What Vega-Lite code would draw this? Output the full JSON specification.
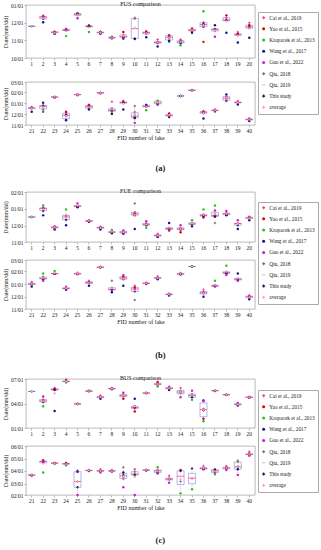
{
"$schema": "https://vega.github.io/schema/vega-lite/v6.json",
"background": "white",
"padding": {"left": 2, "top": 0, "right": 0, "bottom": 0},
"datasets": {
"FUS": [
{"l":1,"This":-37,"avg":-37},
{"l":2,"Cai":-18,"Yao":-20,"Guo":-21,"Wang":-30,"This":-24,"avg":-23},
{"l":3,"Cai":-46,"Yao":-47,"Guo":-47,"Wang":-50,"This":-48,"avg":-48},
{"l":4,"Cai":-41,"Guo":-42,"Wang":-44,"Kro":-54,"This":-44,"avg":-45},
{"l":5,"Kro":-14,"Wang":-15,"Cai":-18,"Guo":-23,"This":-16,"avg":-17},
{"l":6,"Cai":-35,"Yao":-37,"Wang":-36,"Guo":-38,"Kro":-47,"This":-37,"avg":-39},
{"l":7,"Cai":-46,"Guo":-47,"Kro":-48,"Wang":-50,"This":-48,"avg":-48},
{"l":8,"Kro":-55,"Cai":-56,"Wang":-57,"Guo":-58,"This":-57,"avg":-57},
{"l":9,"Yao":-47,"Cai":-52,"Guo":-56,"Wang":-58,"This":-55,"avg":-54},
{"l":10,"Cai":-22,"Q18":-24,"Wang":-59,"This":-58,"avg":-40},
{"l":11,"Cai":-45,"Yao":-47,"Guo":-50,"Wang":-56,"This":-48,"avg":-49},
{"l":12,"Cai":-60,"Guo":-64,"Yao":-66,"Wang":-72,"This":-65,"avg":-65},
{"l":13,"Cai":-52,"Yao":-53,"Guo":-55,"Wang":-62,"Kro":-64,"This":-57,"avg":-57},
{"l":14,"Cai":-60,"Guo":-62,"Wang":-66,"Kro":-70,"This":-64,"avg":-64},
{"l":15,"Cai":-40,"Yao":-42,"Guo":-44,"Wang":-48,"This":-45,"avg":-44},
{"l":16,"Kro":-11,"Cai":-30,"Wang":-33,"Guo":-38,"Yao":-64,"This":-35,"avg":-35},
{"l":17,"Wang":-35,"Kro":-42,"Cai":-45,"Guo":-55,"This":-42,"avg":-44},
{"l":18,"Yao":-18,"Cai":-22,"Guo":-26,"Wang":-48,"This":-27,"avg":-28},
{"l":19,"Cai":-47,"Yao":-50,"Guo":-52,"Wang":-65,"This":-52,"avg":-53},
{"l":20,"Cai":-31,"Yao":-35,"Guo":-40,"Wang":-57,"This":-38,"avg":-40},
{"l":21,"Cai":-11,"Yao":-13,"Guo":-14,"Wang":-24,"This":-15,"avg":-15},
{"l":22,"Wang":1,"Cai":-6,"Q18":-10,"Kro":-18,"Guo":-24,"This":-8,"avg":-11},
{"l":23,"Cai":17,"Wang":16,"Guo":17,"This":17,"avg":17},
{"l":24,"Yao":-24,"Cai":-27,"Guo":-36,"Kro":-46,"Wang":-48,"This":-32,"avg":-36},
{"l":25,"Cai":25,"Guo":22,"Wang":24,"This":24,"avg":24},
{"l":26,"Cai":-4,"Yao":-6,"Guo":-11,"Kro":-15,"Wang":-18,"This":-9,"avg":-11},
{"l":27,"Cai":30,"Guo":27,"This":29,"avg":29},
{"l":28,"Cai":4,"Guo":-15,"Yao":-19,"Kro":-24,"Wang":-30,"This":-20,"avg":-17},
{"l":29,"Cai":7,"Yao":3,"Guo":0,"Wang":-18,"This":2,"avg":-1},
{"l":30,"Q18":-8,"Cai":-25,"Kro":-33,"Wang":-40,"Guo":-55,"This":-42,"avg":-34},
{"l":31,"Cai":-4,"Wang":-6,"Guo":-10,"Kro":-20,"This":-9,"avg":-10},
{"l":32,"Cai":7,"Kro":6,"Guo":-2,"Wang":-4,"This":1,"avg":2},
{"l":33,"Yao":-29,"Cai":-32,"Guo":-35,"Wang":-39,"This":-35,"avg":-34},
{"l":34,"Cai":20,"Wang":20,"This":20,"avg":20},
{"l":35,"Cai":37,"Wang":36,"This":35,"avg":36},
{"l":36,"Cai":-22,"Yao":-24,"Guo":-25,"Wang":-43,"This":-28,"avg":-28},
{"l":37,"Cai":-17,"Guo":-20,"Wang":-21,"Kro":-24,"This":-20,"avg":-20},
{"l":38,"Wang":24,"Cai":18,"Kro":8,"Guo":6,"This":14,"avg":14},
{"l":39,"Cai":6,"Guo":2,"Wang":-4,"This":2,"avg":2},
{"l":40,"Cai":-42,"Guo":-45,"Wang":-50,"This":-46,"avg":-46}
],
"FUE": [
{"l":1,"Cai":-15,"This":-15,"avg":-15},
{"l":2,"Kro":6,"Cai":1,"Guo":2,"Yao":0,"Wang":-12,"This":-4,"avg":-1},
{"l":3,"Cai":-32,"Yao":-33,"Guo":-34,"Wang":-38,"This":-35,"avg":-34},
{"l":4,"Kro":-1,"Cai":-12,"Guo":-15,"Wang":-30,"This":-20,"avg":-16},
{"l":5,"Guo":10,"Cai":6,"Kro":4,"Wang":3,"This":5,"avg":6},
{"l":6,"Cai":-21,"Guo":-22,"Wang":-23,"Yao":-24,"This":-22,"avg":-22},
{"l":7,"Cai":-33,"Guo":-34,"Wang":-38,"This":-35,"avg":-35},
{"l":8,"Kro":-39,"Guo":-42,"Cai":-43,"Wang":-45,"This":-43,"avg":-42},
{"l":9,"Guo":-40,"Cai":-42,"Wang":-46,"This":-44,"avg":-43},
{"l":10,"Q18":10,"Cai":-6,"Guo":-9,"Yao":-12,"Wang":-37,"This":-10,"avg":-11},
{"l":11,"Guo":-23,"Cai":-27,"Wang":-30,"Kro":-35,"This":-29,"avg":-29},
{"l":12,"Cai":-46,"Guo":-48,"Yao":-50,"Wang":-52,"This":-49,"avg":-49},
{"l":13,"Wang":-26,"Cai":-35,"Guo":-38,"Yao":-40,"This":-36,"avg":-35},
{"l":14,"Guo":-30,"Cai":-35,"Wang":-38,"Yao":-43,"This":-37,"avg":-37},
{"l":15,"Kro":-21,"Cai":-26,"Guo":-28,"Wang":-32,"This":-28,"avg":-27},
{"l":16,"Kro":-1,"Cai":-10,"Wang":-12,"Guo":-13,"Yao":-16,"This":-13,"avg":-11},
{"l":17,"Kro":6,"Guo":-3,"Cai":-10,"Yao":-14,"Wang":-14,"Q18":-26,"This":-12,"avg":-10},
{"l":18,"Guo":-4,"Cai":-8,"Yao":-11,"Wang":-12,"This":-9,"avg":-9},
{"l":19,"Guo":-21,"Cai":-27,"Q18":-27,"Wang":-37,"This":-30,"avg":-28},
{"l":20,"Cai":-14,"Guo":-17,"Wang":-21,"This":-16,"avg":-17},
{"l":21,"Cai":5,"Guo":2,"Yao":0,"Wang":-6,"This":-1,"avg":0},
{"l":22,"Kro":26,"Q18":18,"Cai":14,"Wang":12,"Guo":8,"This":14,"avg":15},
{"l":23,"Kro":32,"Cai":26,"Guo":25,"Wang":25,"This":26,"avg":27},
{"l":24,"Cai":-6,"Guo":-10,"Wang":-14,"This":-11,"avg":-10},
{"l":25,"Cai":28,"Guo":24,"Wang":25,"This":26,"avg":26},
{"l":26,"Cai":8,"Guo":5,"Wang":-4,"This":3,"avg":3},
{"l":27,"Cai":43,"Guo":40,"This":41,"avg":41},
{"l":28,"Q18":8,"Cai":-9,"Guo":-13,"Wang":-20,"This":-14,"avg":-10},
{"l":29,"Guo":22,"Yao":18,"Cai":15,"Wang":-4,"This":12,"avg":13},
{"l":30,"Cai":-4,"Yao":-8,"Guo":-12,"Q18":-39,"This":-18,"avg":-16},
{"l":31,"Cai":4,"Guo":2,"Wang":0,"This":2,"avg":2},
{"l":32,"Cai":19,"Guo":15,"Wang":12,"This":15,"avg":15},
{"l":33,"Cai":-23,"Guo":-25,"Wang":-28,"This":-25,"avg":-25},
{"l":34,"Q18":27,"Cai":26,"Wang":24,"This":24,"avg":25},
{"l":35,"Wang":43,"This":43,"avg":43},
{"l":36,"Cai":-14,"Guo":-20,"Wang":-31,"This":-22,"avg":-22},
{"l":37,"Kro":8,"Cai":-4,"Wang":-5,"Guo":-6,"This":-3,"avg":-2},
{"l":38,"Kro":45,"Cai":30,"Wang":26,"Guo":22,"This":28,"avg":30},
{"l":39,"Wang":26,"Cai":14,"Kro":10,"Guo":8,"This":12,"avg":14},
{"l":40,"Cai":-27,"Guo":-30,"Wang":-37,"This":-32,"avg":-32}
],
"BUS": [
{"l":1,"Cai":135,"This":135,"avg":135},
{"l":2,"Guo":116,"Cai":105,"Wang":96,"Kro":80,"This":100,"avg":99},
{"l":3,"Cai":148,"Guo":145,"Yao":140,"Wang":63,"This":142,"avg":128},
{"l":4,"Guo":178,"Cai":172,"Kro":168,"This":172,"avg":172},
{"l":5,"Cai":89,"Guo":90,"This":89,"avg":89},
{"l":6,"Wang":138,"Cai":136,"This":136,"avg":137},
{"l":7,"Cai":120,"Guo":115,"Wang":108,"This":113,"avg":114},
{"l":8,"Cai":148,"Guo":146,"Wang":143,"This":145,"avg":145},
{"l":9,"Guo":130,"Cai":122,"Yao":108,"This":118,"avg":120},
{"l":10,"Wang":108,"Guo":80,"Cai":72,"Yao":61,"This":76,"avg":79},
{"l":11,"Cai":130,"Guo":128,"This":129,"avg":129},
{"l":12,"Yao":170,"Cai":165,"Guo":160,"Kro":153,"This":162,"avg":162},
{"l":13,"Cai":153,"Guo":150,"Yao":145,"Wang":140,"This":146,"avg":147},
{"l":14,"Cai":148,"Kro":136,"Guo":114,"This":130,"avg":132},
{"l":15,"Guo":138,"Cai":125,"Wang":114,"Kro":104,"This":120,"avg":120},
{"l":16,"Wang":102,"Guo":100,"Cai":71,"Yao":34,"Kro":25,"This":65,"avg":66},
{"l":17,"Cai":139,"Wang":137,"This":138,"avg":138},
{"l":18,"Cai":124,"Wang":122,"This":123,"avg":123},
{"l":19,"Guo":92,"Cai":88,"Wang":83,"This":87,"avg":87},
{"l":20,"Cai":116,"Guo":112,"Wang":113,"This":114,"avg":114},
{"l":21,"Cai":80,"Wang":79,"This":80,"avg":80},
{"l":22,"Yao":116,"Guo":114,"Cai":113,"Kro":86,"This":110,"avg":108},
{"l":23,"Cai":110,"Guo":108,"Wang":109,"This":109,"avg":109},
{"l":24,"Cai":110,"Wang":108,"Guo":106,"Kro":104,"This":108,"avg":107},
{"l":25,"Cai":91,"Wang":88,"Q18":64,"Guo":31,"This":50,"avg":65},
{"l":26,"Cai":92,"Wang":90,"This":91,"avg":91},
{"l":27,"Cai":94,"Wang":90,"Guo":86,"This":90,"avg":90},
{"l":28,"Cai":92,"Wang":90,"Guo":88,"This":90,"avg":90},
{"l":29,"Q18":99,"Wang":86,"Kro":76,"Cai":70,"Guo":50,"This":80,"avg":77},
{"l":30,"Q18":94,"Cai":88,"Kro":82,"Guo":31,"This":80,"avg":75},
{"l":31,"Cai":93,"Wang":91,"This":92,"avg":92},
{"l":32,"Kro":99,"Cai":92,"Guo":86,"Wang":84,"This":90,"avg":90},
{"l":33,"Cai":78,"Wang":70,"Guo":61,"This":70,"avg":70},
{"l":34,"Yao":92,"Q18":64,"Kro":35,"This":90,"avg":70},
{"l":35,"This":96,"Cai":72,"Kro":45,"avg":71},
{"l":36,"Cai":102,"Guo":95,"Wang":94,"This":97,"avg":97},
{"l":37,"Cai":94,"Wang":93,"Guo":86,"Kro":82,"This":90,"avg":89},
{"l":38,"Cai":102,"Wang":98,"Guo":92,"This":96,"avg":97},
{"l":39,"Kro":115,"Cai":112,"Wang":94,"Guo":80,"This":100,"avg":100},
{"l":40,"Cai":137,"Yao":132,"Wang":130,"Guo":127,"This":130,"avg":131}
]
},
"vconcat": [
{
"spacing": 24, "bounds": "flush",
"title": {"text": "(a)", "orient": "bottom", "anchor": "middle", "offset": 23, "fontSize": 8.5, "fontWeight": "bold"},
"vconcat": [
{
"width": 229, "height": 53,
"title": {"text": "FUS comparison", "anchor": "middle", "offset": -4},
"data": {"name": "FUS"},
"transform": [{"fold": ["Cai","Yao","Kro","Wang","Guo","Q18","Q19","This","avg"], "as": ["src","v"]}, {"filter": "isValid(datum.v) && datum.l <= 20"}],
"encoding": {
 "x": {"field": "l", "type": "ordinal", "scale": {"type": "band", "paddingInner": 0, "paddingOuter": 0}, "axis": {"title": null}},
 "y": {"field": "v", "type": "quantitative", "scale": {"domain": [-92, 0], "nice": false, "zero": false}, "axis": {"title": "Date(mm/dd)", "values": [-92,-61,-31,0], "labelOverlap": false, "labelExpr": "datum.value==-92?'10/01':datum.value==-61?'11/01':datum.value==-31?'12/01':datum.value==0?'01/01':datum.value==31?'02/01':datum.value==59?'03/01':datum.value==90?'04/01':datum.value==120?'05/01':datum.value==151?'06/01':'07/01'"}}
},
"layer": [
{"transform": [{"filter": "datum.src != 'avg'"}],
 "mark": {"type": "boxplot", "extent": 1.5, "size": 7, "outliers": false, "ticks": false, "box": {"fill": "transparent", "stroke": "#8484ee", "strokeWidth": 0.6}, "median": {"color": "#ff3030", "strokeWidth": 0.7}, "rule": {"color": "#777", "strokeWidth": 0.4, "strokeDash": [1,1]}}},
{"mark": {"type": "point", "filled": true, "opacity": 1, "size": 6},
 "encoding": {
  "color": {"field": "src", "type": "nominal", "scale": {"domain": ["Cai","Yao","Kro","Wang","Guo","Q18","Q19","This","avg"], "range": ["#f5457a","#e00000","#22c422","#14148a","#c81ec8","#777777","#aaaaaa","#1a1a5e","#ff9fc0"]}, "legend": {"orient": "none", "legendX": 232, "legendY": 7, "title": null, "labelExpr": "datum.label=='Cai'?'Cai et al., 2019':datum.label=='Yao'?'Yao et al., 2015':datum.label=='Kro'?'Kropacek et al., 2013':datum.label=='Wang'?'Wang et al., 2017':datum.label=='Guo'?'Guo et al., 2022':datum.label=='Q18'?'Qiu, 2018':datum.label=='Q19'?'Qiu, 2019':datum.label=='This'?'This study':'average'"}},
  "shape": {"field": "src", "type": "nominal", "scale": {"domain": ["Cai","Yao","Kro","Wang","Guo","Q18","Q19","This","avg"], "range": ["cross","circle","circle","circle","circle","cross","M-1,-0.25H1V0.25H-1Z","cross","cross"]}, "legend": {"orient": "none", "legendX": 232, "legendY": 7, "title": null, "labelExpr": "datum.label=='Cai'?'Cai et al., 2019':datum.label=='Yao'?'Yao et al., 2015':datum.label=='Kro'?'Kropacek et al., 2013':datum.label=='Wang'?'Wang et al., 2017':datum.label=='Guo'?'Guo et al., 2022':datum.label=='Q18'?'Qiu, 2018':datum.label=='Q19'?'Qiu, 2019':datum.label=='This'?'This study':'average'"}}}}
]
},
{
"width": 229, "height": 43,
"data": {"name": "FUS"},
"transform": [{"fold": ["Cai","Yao","Kro","Wang","Guo","Q18","Q19","This","avg"], "as": ["src","v"]}, {"filter": "isValid(datum.v) && datum.l > 20"}],
"encoding": {
 "x": {"field": "l", "type": "ordinal", "scale": {"type": "band", "paddingInner": 0, "paddingOuter": 0}, "axis": {"title": "FID number of lake"}},
 "y": {"field": "v", "type": "quantitative", "scale": {"domain": [-61, 59], "nice": false, "zero": false}, "axis": {"title": "Date(mm/dd)", "values": [-61,-31,0,31,59], "labelOverlap": false, "labelExpr": "datum.value==-92?'10/01':datum.value==-61?'11/01':datum.value==-31?'12/01':datum.value==0?'01/01':datum.value==31?'02/01':datum.value==59?'03/01':datum.value==90?'04/01':datum.value==120?'05/01':datum.value==151?'06/01':'07/01'"}}
},
"layer": [
{"transform": [{"filter": "datum.src != 'avg'"}],
 "mark": {"type": "boxplot", "extent": 1.5, "size": 7, "outliers": false, "ticks": false, "box": {"fill": "transparent", "stroke": "#8484ee", "strokeWidth": 0.6}, "median": {"color": "#ff3030", "strokeWidth": 0.7}, "rule": {"color": "#777", "strokeWidth": 0.4, "strokeDash": [1,1]}}},
{"mark": {"type": "point", "filled": true, "opacity": 1, "size": 6},
 "encoding": {
  "color": {"field": "src", "type": "nominal", "scale": {"domain": ["Cai","Yao","Kro","Wang","Guo","Q18","Q19","This","avg"], "range": ["#f5457a","#e00000","#22c422","#14148a","#c81ec8","#777777","#aaaaaa","#1a1a5e","#ff9fc0"]}, "legend": {"orient": "none", "legendX": 232, "legendY": 7, "title": null, "labelExpr": "datum.label=='Cai'?'Cai et al., 2019':datum.label=='Yao'?'Yao et al., 2015':datum.label=='Kro'?'Kropacek et al., 2013':datum.label=='Wang'?'Wang et al., 2017':datum.label=='Guo'?'Guo et al., 2022':datum.label=='Q18'?'Qiu, 2018':datum.label=='Q19'?'Qiu, 2019':datum.label=='This'?'This study':'average'"}},
  "shape": {"field": "src", "type": "nominal", "scale": {"domain": ["Cai","Yao","Kro","Wang","Guo","Q18","Q19","This","avg"], "range": ["cross","circle","circle","circle","circle","cross","M-1,-0.25H1V0.25H-1Z","cross","cross"]}, "legend": {"orient": "none", "legendX": 232, "legendY": 7, "title": null, "labelExpr": "datum.label=='Cai'?'Cai et al., 2019':datum.label=='Yao'?'Yao et al., 2015':datum.label=='Kro'?'Kropacek et al., 2013':datum.label=='Wang'?'Wang et al., 2017':datum.label=='Guo'?'Guo et al., 2022':datum.label=='Q18'?'Qiu, 2018':datum.label=='Q19'?'Qiu, 2019':datum.label=='This'?'This study':'average'"}}}}
]
}
]
},
{
"spacing": 18, "bounds": "flush",
"title": {"text": "(b)", "orient": "bottom", "anchor": "middle", "offset": 26, "fontSize": 8.5, "fontWeight": "bold"},
"vconcat": [
{
"width": 229, "height": 50,
"title": {"text": "FUE comparison", "anchor": "middle", "offset": -4},
"data": {"name": "FUE"},
"transform": [{"fold": ["Cai","Yao","Kro","Wang","Guo","Q18","Q19","This","avg"], "as": ["src","v"]}, {"filter": "isValid(datum.v) && datum.l <= 20"}],
"encoding": {
 "x": {"field": "l", "type": "ordinal", "scale": {"type": "band", "paddingInner": 0, "paddingOuter": 0}, "axis": {"title": null}},
 "y": {"field": "v", "type": "quantitative", "scale": {"domain": [-61, 31], "nice": false, "zero": false}, "axis": {"title": "Date(mm/dd)", "values": [-61,-31,0,31], "labelOverlap": false, "labelExpr": "datum.value==-92?'10/01':datum.value==-61?'11/01':datum.value==-31?'12/01':datum.value==0?'01/01':datum.value==31?'02/01':datum.value==59?'03/01':datum.value==90?'04/01':datum.value==120?'05/01':datum.value==151?'06/01':'07/01'"}}
},
"layer": [
{"transform": [{"filter": "datum.src != 'avg'"}],
 "mark": {"type": "boxplot", "extent": 1.5, "size": 7, "outliers": false, "ticks": false, "box": {"fill": "transparent", "stroke": "#8484ee", "strokeWidth": 0.6}, "median": {"color": "#ff3030", "strokeWidth": 0.7}, "rule": {"color": "#777", "strokeWidth": 0.4, "strokeDash": [1,1]}}},
{"mark": {"type": "point", "filled": true, "opacity": 1, "size": 6},
 "encoding": {
  "color": {"field": "src", "type": "nominal", "scale": {"domain": ["Cai","Yao","Kro","Wang","Guo","Q18","Q19","This","avg"], "range": ["#f5457a","#e00000","#22c422","#14148a","#c81ec8","#777777","#aaaaaa","#1a1a5e","#ff9fc0"]}, "legend": {"orient": "none", "legendX": 232, "legendY": 10, "title": null, "labelExpr": "datum.label=='Cai'?'Cai et al., 2019':datum.label=='Yao'?'Yao et al., 2015':datum.label=='Kro'?'Kropacek et al., 2013':datum.label=='Wang'?'Wang et al., 2017':datum.label=='Guo'?'Guo et al., 2022':datum.label=='Q18'?'Qiu, 2018':datum.label=='Q19'?'Qiu, 2019':datum.label=='This'?'This study':'average'"}},
  "shape": {"field": "src", "type": "nominal", "scale": {"domain": ["Cai","Yao","Kro","Wang","Guo","Q18","Q19","This","avg"], "range": ["cross","circle","circle","circle","circle","cross","M-1,-0.25H1V0.25H-1Z","cross","cross"]}, "legend": {"orient": "none", "legendX": 232, "legendY": 10, "title": null, "labelExpr": "datum.label=='Cai'?'Cai et al., 2019':datum.label=='Yao'?'Yao et al., 2015':datum.label=='Kro'?'Kropacek et al., 2013':datum.label=='Wang'?'Wang et al., 2017':datum.label=='Guo'?'Guo et al., 2022':datum.label=='Q18'?'Qiu, 2018':datum.label=='Q19'?'Qiu, 2019':datum.label=='This'?'This study':'average'"}}}}
]
},
{
"width": 229, "height": 49,
"data": {"name": "FUE"},
"transform": [{"fold": ["Cai","Yao","Kro","Wang","Guo","Q18","Q19","This","avg"], "as": ["src","v"]}, {"filter": "isValid(datum.v) && datum.l > 20"}],
"encoding": {
 "x": {"field": "l", "type": "ordinal", "scale": {"type": "band", "paddingInner": 0, "paddingOuter": 0}, "axis": {"title": "FID number of lake"}},
 "y": {"field": "v", "type": "quantitative", "scale": {"domain": [-61, 59], "nice": false, "zero": false}, "axis": {"title": "Date(mm/dd)", "values": [-61,-31,0,31,59], "labelOverlap": false, "labelExpr": "datum.value==-92?'10/01':datum.value==-61?'11/01':datum.value==-31?'12/01':datum.value==0?'01/01':datum.value==31?'02/01':datum.value==59?'03/01':datum.value==90?'04/01':datum.value==120?'05/01':datum.value==151?'06/01':'07/01'"}}
},
"layer": [
{"transform": [{"filter": "datum.src != 'avg'"}],
 "mark": {"type": "boxplot", "extent": 1.5, "size": 7, "outliers": false, "ticks": false, "box": {"fill": "transparent", "stroke": "#8484ee", "strokeWidth": 0.6}, "median": {"color": "#ff3030", "strokeWidth": 0.7}, "rule": {"color": "#777", "strokeWidth": 0.4, "strokeDash": [1,1]}}},
{"mark": {"type": "point", "filled": true, "opacity": 1, "size": 6},
 "encoding": {
  "color": {"field": "src", "type": "nominal", "scale": {"domain": ["Cai","Yao","Kro","Wang","Guo","Q18","Q19","This","avg"], "range": ["#f5457a","#e00000","#22c422","#14148a","#c81ec8","#777777","#aaaaaa","#1a1a5e","#ff9fc0"]}, "legend": {"orient": "none", "legendX": 232, "legendY": 10, "title": null, "labelExpr": "datum.label=='Cai'?'Cai et al., 2019':datum.label=='Yao'?'Yao et al., 2015':datum.label=='Kro'?'Kropacek et al., 2013':datum.label=='Wang'?'Wang et al., 2017':datum.label=='Guo'?'Guo et al., 2022':datum.label=='Q18'?'Qiu, 2018':datum.label=='Q19'?'Qiu, 2019':datum.label=='This'?'This study':'average'"}},
  "shape": {"field": "src", "type": "nominal", "scale": {"domain": ["Cai","Yao","Kro","Wang","Guo","Q18","Q19","This","avg"], "range": ["cross","circle","circle","circle","circle","cross","M-1,-0.25H1V0.25H-1Z","cross","cross"]}, "legend": {"orient": "none", "legendX": 232, "legendY": 10, "title": null, "labelExpr": "datum.label=='Cai'?'Cai et al., 2019':datum.label=='Yao'?'Yao et al., 2015':datum.label=='Kro'?'Kropacek et al., 2013':datum.label=='Wang'?'Wang et al., 2017':datum.label=='Guo'?'Guo et al., 2022':datum.label=='Q18'?'Qiu, 2018':datum.label=='Q19'?'Qiu, 2019':datum.label=='This'?'This study':'average'"}}}}
]
}
]
},
{
"spacing": 18, "bounds": "flush",
"title": {"text": "(c)", "orient": "bottom", "anchor": "middle", "offset": 25, "fontSize": 8.5, "fontWeight": "bold"},
"vconcat": [
{
"width": 229, "height": 49,
"title": {"text": "BUS comparison", "anchor": "middle", "offset": -4},
"data": {"name": "BUS"},
"transform": [{"fold": ["Cai","Yao","Kro","Wang","Guo","Q18","Q19","This","avg"], "as": ["src","v"]}, {"filter": "isValid(datum.v) && datum.l <= 20"}],
"encoding": {
 "x": {"field": "l", "type": "ordinal", "scale": {"type": "band", "paddingInner": 0, "paddingOuter": 0}, "axis": {"title": null}},
 "y": {"field": "v", "type": "quantitative", "scale": {"domain": [0, 181], "nice": false, "zero": false}, "axis": {"title": "Date(mm/dd)", "values": [0,90,181], "labelOverlap": false, "labelExpr": "datum.value==-92?'10/01':datum.value==-61?'11/01':datum.value==-31?'12/01':datum.value==0?'01/01':datum.value==31?'02/01':datum.value==59?'03/01':datum.value==90?'04/01':datum.value==120?'05/01':datum.value==151?'06/01':'07/01'"}}
},
"layer": [
{"transform": [{"filter": "datum.src != 'avg'"}],
 "mark": {"type": "boxplot", "extent": 1.5, "size": 7, "outliers": false, "ticks": false, "box": {"fill": "transparent", "stroke": "#8484ee", "strokeWidth": 0.6}, "median": {"color": "#ff3030", "strokeWidth": 0.7}, "rule": {"color": "#777", "strokeWidth": 0.4, "strokeDash": [1,1]}}},
{"mark": {"type": "point", "filled": true, "opacity": 1, "size": 6},
 "encoding": {
  "color": {"field": "src", "type": "nominal", "scale": {"domain": ["Cai","Yao","Kro","Wang","Guo","Q18","Q19","This","avg"], "range": ["#f5457a","#e00000","#22c422","#14148a","#c81ec8","#777777","#aaaaaa","#1a1a5e","#ff9fc0"]}, "legend": {"orient": "none", "legendX": 232, "legendY": 11, "title": null, "labelExpr": "datum.label=='Cai'?'Cai et al., 2019':datum.label=='Yao'?'Yao et al., 2015':datum.label=='Kro'?'Kropacek et al., 2013':datum.label=='Wang'?'Wang et al., 2017':datum.label=='Guo'?'Guo et al., 2022':datum.label=='Q18'?'Qiu, 2018':datum.label=='Q19'?'Qiu, 2019':datum.label=='This'?'This study':'average'"}},
  "shape": {"field": "src", "type": "nominal", "scale": {"domain": ["Cai","Yao","Kro","Wang","Guo","Q18","Q19","This","avg"], "range": ["cross","circle","circle","circle","circle","cross","M-1,-0.25H1V0.25H-1Z","cross","cross"]}, "legend": {"orient": "none", "legendX": 232, "legendY": 11, "title": null, "labelExpr": "datum.label=='Cai'?'Cai et al., 2019':datum.label=='Yao'?'Yao et al., 2015':datum.label=='Kro'?'Kropacek et al., 2013':datum.label=='Wang'?'Wang et al., 2017':datum.label=='Guo'?'Guo et al., 2022':datum.label=='Q18'?'Qiu, 2018':datum.label=='Q19'?'Qiu, 2019':datum.label=='This'?'This study':'average'"}}}}
]
},
{
"width": 229, "height": 49,
"data": {"name": "BUS"},
"transform": [{"fold": ["Cai","Yao","Kro","Wang","Guo","Q18","Q19","This","avg"], "as": ["src","v"]}, {"filter": "isValid(datum.v) && datum.l > 20"}],
"encoding": {
 "x": {"field": "l", "type": "ordinal", "scale": {"type": "band", "paddingInner": 0, "paddingOuter": 0}, "axis": {"title": "FID number of lake"}},
 "y": {"field": "v", "type": "quantitative", "scale": {"domain": [31, 151], "nice": false, "zero": false}, "axis": {"title": "Date(mm/dd)", "values": [31,59,90,120,151], "labelOverlap": false, "labelExpr": "datum.value==-92?'10/01':datum.value==-61?'11/01':datum.value==-31?'12/01':datum.value==0?'01/01':datum.value==31?'02/01':datum.value==59?'03/01':datum.value==90?'04/01':datum.value==120?'05/01':datum.value==151?'06/01':'07/01'"}}
},
"layer": [
{"transform": [{"filter": "datum.src != 'avg'"}],
 "mark": {"type": "boxplot", "extent": 1.5, "size": 7, "outliers": false, "ticks": false, "box": {"fill": "transparent", "stroke": "#8484ee", "strokeWidth": 0.6}, "median": {"color": "#ff3030", "strokeWidth": 0.7}, "rule": {"color": "#777", "strokeWidth": 0.4, "strokeDash": [1,1]}}},
{"mark": {"type": "point", "filled": true, "opacity": 1, "size": 6},
 "encoding": {
  "color": {"field": "src", "type": "nominal", "scale": {"domain": ["Cai","Yao","Kro","Wang","Guo","Q18","Q19","This","avg"], "range": ["#f5457a","#e00000","#22c422","#14148a","#c81ec8","#777777","#aaaaaa","#1a1a5e","#ff9fc0"]}, "legend": {"orient": "none", "legendX": 232, "legendY": 11, "title": null, "labelExpr": "datum.label=='Cai'?'Cai et al., 2019':datum.label=='Yao'?'Yao et al., 2015':datum.label=='Kro'?'Kropacek et al., 2013':datum.label=='Wang'?'Wang et al., 2017':datum.label=='Guo'?'Guo et al., 2022':datum.label=='Q18'?'Qiu, 2018':datum.label=='Q19'?'Qiu, 2019':datum.label=='This'?'This study':'average'"}},
  "shape": {"field": "src", "type": "nominal", "scale": {"domain": ["Cai","Yao","Kro","Wang","Guo","Q18","Q19","This","avg"], "range": ["cross","circle","circle","circle","circle","cross","M-1,-0.25H1V0.25H-1Z","cross","cross"]}, "legend": {"orient": "none", "legendX": 232, "legendY": 11, "title": null, "labelExpr": "datum.label=='Cai'?'Cai et al., 2019':datum.label=='Yao'?'Yao et al., 2015':datum.label=='Kro'?'Kropacek et al., 2013':datum.label=='Wang'?'Wang et al., 2017':datum.label=='Guo'?'Guo et al., 2022':datum.label=='Q18'?'Qiu, 2018':datum.label=='Q19'?'Qiu, 2019':datum.label=='This'?'This study':'average'"}}}}
]
}
]
}
],
"spacing": 14,
"resolve": {"scale": {"color": "independent", "shape": "independent"}, "legend": {"color": "independent", "shape": "independent"}},
"config": {
"font": "Liberation Serif",
"view": {"stroke": "#8c8c8c", "strokeWidth": 0.6},
"axis": {"labelFontSize": 5.5, "titleFontSize": 6, "titleFontWeight": "normal", "labelFont": "Liberation Serif", "titleFont": "Liberation Serif", "domain": false, "grid": false, "tickSize": 2, "tickColor": "#777", "tickWidth": 0.5, "labelPadding": 1, "labelColor": "#222", "titleColor": "#222", "labelOverlap": false, "labelFlush": false},
"axisX": {"labelAngle": 0, "titlePadding": 1},
"axisY": {"titlePadding": 2},
"title": {"fontSize": 6, "fontWeight": "normal", "color": "#222", "font": "Liberation Serif"},
"legend": {"labelFontSize": 5.3, "labelFont": "Liberation Serif", "labelColor": "#222", "rowPadding": 5.2, "padding": 3, "strokeColor": "#aaa", "fillColor": "white", "symbolSize": 9, "labelOffset": 3, "symbolStrokeWidth": 0}
}
}
